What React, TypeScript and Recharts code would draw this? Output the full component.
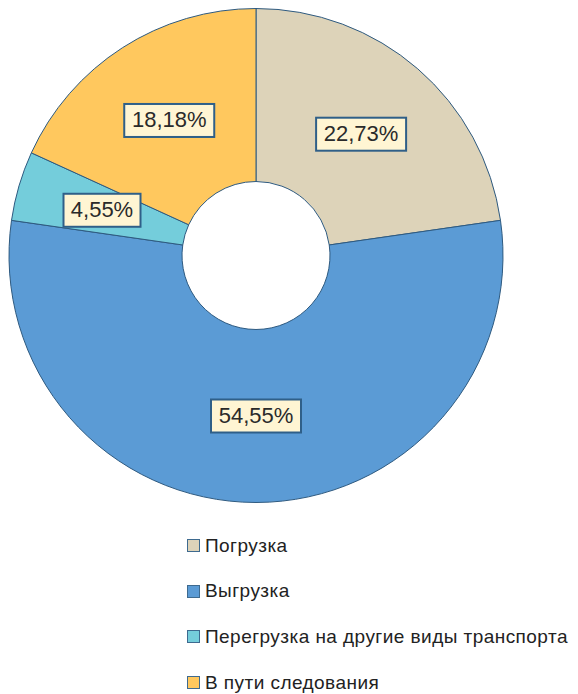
import React from "react";
import { PieChart, Pie, Cell, Legend } from "recharts";

const categories = [
  "Погрузка",
  "Выгрузка",
  "Перегрузка на другие виды транспорта",
  "В пути следования",
];
const shares = [22.73, 54.55, 4.55, 18.18];
const labels = ["22,73%", "54,55%", "4,55%", "18,18%"];
const colors = ["#DDD3B9", "#5B9BD5", "#74CDDB", "#FFC85E"];

const data = categories.map((name, i) => ({ name, value: shares[i], label: labels[i] }));

const RAD = Math.PI / 180;
const FONT = "'Liberation Sans', Arial, sans-serif";

const renderLabel = (props: any) => {
  const { cx, cy, midAngle, innerRadius, outerRadius, index } = props;
  const r = (innerRadius + outerRadius) / 2;
  const x = cx + r * Math.cos(-midAngle * RAD);
  const y = cy + r * Math.sin(-midAngle * RAD);
  const text = labels[index];
  const w = 13 * text.length + 12;
  const h = 33;
  return (
    <g>
      <rect x={x - w / 2} y={y - h / 2} width={w} height={h} fill="#FFF5D3" stroke="#2F5F88" strokeWidth={2} />
      <text x={x} y={y + 1} textAnchor="middle" dominantBaseline="middle" fontFamily={FONT} fontSize={22} fill="#2A2A2A">
        {text}
      </text>
    </g>
  );
};

const LegendContent = () => (
  <div style={{ fontFamily: FONT, fontSize: 19, color: "#222", letterSpacing: 0.45, whiteSpace: "nowrap" }}>
    {categories.map((c, i) => (
      <div key={c} style={{ display: "flex", alignItems: "center", height: 45.6 }}>
        <span
          style={{
            display: "inline-block",
            width: 11,
            height: 11,
            background: colors[i],
            border: "1.5px solid #3E6A8F",
            marginRight: 5,
            flexShrink: 0,
          }}
        />
        <span>{c}</span>
      </div>
    ))}
  </div>
);

export default function App() {
  return (
    <PieChart width={570} height={686} margin={{ top: 0, right: 0, bottom: 0, left: 0 }}>
      <Pie
        data={data}
        dataKey="value"
        nameKey="name"
        cx={248}
        cy={247.5}
        innerRadius={74}
        outerRadius={247}
        startAngle={90}
        endAngle={-270}
        stroke="#2E5A80"
        strokeWidth={1}
        label={renderLabel}
        labelLine={false}
        isAnimationActive={false}
      >
        {data.map((d, i) => (
          <Cell key={d.name} fill={colors[i]} />
        ))}
      </Pie>
      <Legend
        content={<LegendContent />}
        wrapperStyle={{ position: "absolute", top: 515, left: 179, width: 400 }}
      />
    </PieChart>
  );
}
